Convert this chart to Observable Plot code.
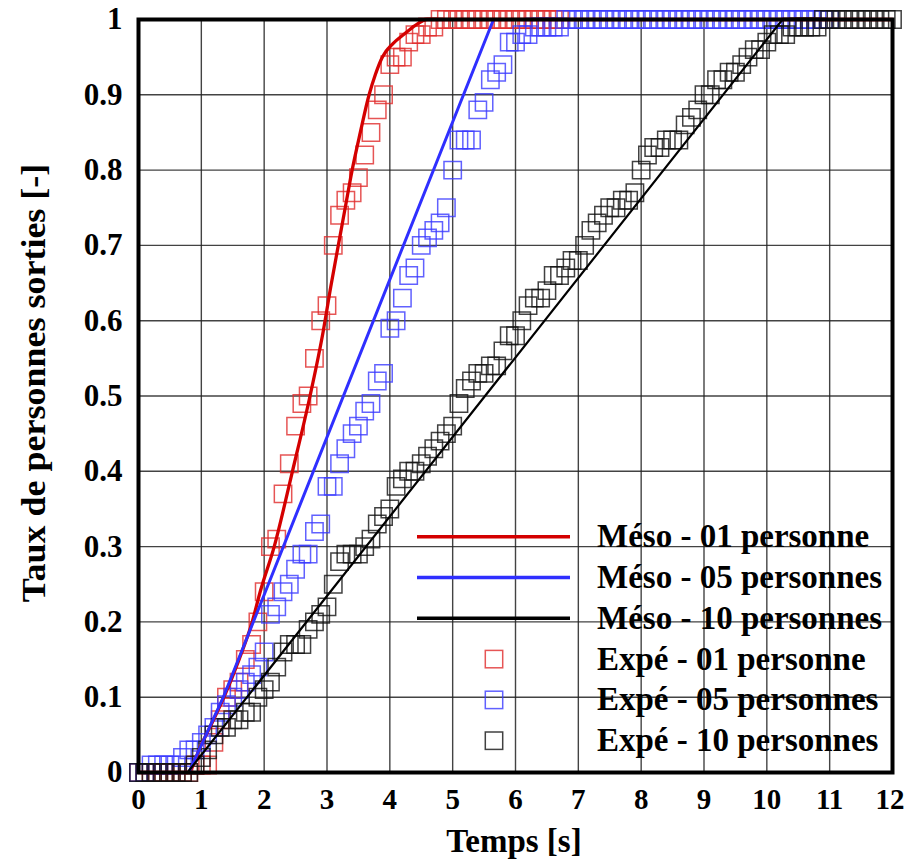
<!DOCTYPE html>
<html><head><meta charset="utf-8">
<script src="https://cdn.jsdelivr.net/npm/d3@7"></script>
<script src="https://cdn.jsdelivr.net/npm/@observablehq/plot@0.6"></script>
<style>
body{margin:0;background:#fff}
#chart{position:relative;width:904px;height:860px}
</style>
</head><body><div id="chart"></div>
<script>
// ---------- DATA ----------
const xTicks = [0,1,2,3,4,5,6,7,8,9,10,11,12];
const yTicks = [0,0.1,0.2,0.3,0.4,0.5,0.6,0.7,0.8,0.9,1];

// experimental sampling times [s]
const expTimes = [0,0.1,0.2,0.3,0.4,0.5,0.6,0.7,0.8,0.9,
  1.0,1.1,1.2,1.3,1.4,1.5,1.6,1.7,1.8,1.9,
  2.0,2.1,2.2,2.3,2.4,2.5,2.6,2.7,2.8,2.9,
  3.0,3.1,3.2,3.3,3.4,3.5,3.6,3.7,3.8,3.9,
  4.0,4.1,4.2,4.3,4.4,4.5,4.6,4.7,4.8,4.9,
  5.0,5.1,5.2,5.3,5.4,5.5,5.6,5.7,5.8,5.9,
  6.0,6.1,6.2,6.3,6.4,6.5,6.6,6.7,6.8,6.9,
  7.0,7.1,7.2,7.3,7.4,7.5,7.6,7.7,7.8,7.9,
  8.0,8.1,8.2,8.3,8.4,8.5,8.6,8.7,8.8,8.9,
  9.0,9.1,9.2,9.3,9.4,9.5,9.6,9.7,9.8,9.9,
  10.0,10.1,10.2,10.3,10.4,10.5,10.6,10.7,10.8,10.9,
  11.0,11.1,11.2,11.3,11.4,11.5,11.6,11.7,11.8,11.9,12.0];

// Expé - 01 personne (t = 0 .. 6.7)
const expe01 = [0,0,0,0,0,0,0,0,0,0.01,
  0.01,0.01,0.04,0.07,0.10,0.11,0.12,0.15,0.17,0.20,
  0.24,0.30,0.31,0.37,0.41,0.46,0.49,0.50,0.55,0.60,
  0.62,0.70,0.74,0.76,0.77,0.79,0.82,0.85,0.88,0.90,
  0.94,0.95,0.95,0.97,0.98,0.98,0.99,0.99,1,1,
  1,1,1,1,1,1,1,1,1,1,
  1,1,1,1,1,1,1,1];

// Expé - 05 personnes (t = 0 .. 11.0)
const expe05 = [0,0,0.01,0.01,0.01,0.01,0.01,0.02,0.03,0.03,
  0.04,0.05,0.06,0.08,0.09,0.10,0.11,0.12,0.13,0.14,
  0.16,0.21,0.22,0.24,0.25,0.27,0.29,0.29,0.32,0.33,
  0.38,0.38,0.41,0.43,0.45,0.46,0.48,0.49,0.52,0.53,
  0.59,0.60,0.63,0.66,0.67,0.70,0.71,0.72,0.73,0.75,
  0.80,0.84,0.84,0.84,0.88,0.89,0.92,0.93,0.94,0.97,
  0.97,0.98,0.98,0.99,0.99,0.99,0.99,0.99,1,1,
  1,1,1,1,1,1,1,1,1,1,
  1,1,1,1,1,1,1,1,1,1,
  1,1,1,1,1,1,1,1,1,1,
  1,1,1,1,1,1,1,1,1,1,
  1];

// Expé - 10 personnes (t = 0 .. 12.0)
const expe10 = [0,0,0,0,0,0,0,0,0,0.01,
  0.02,0.03,0.05,0.06,0.06,0.07,0.07,0.08,0.08,0.10,
  0.11,0.12,0.14,0.16,0.17,0.17,0.17,0.19,0.20,0.21,
  0.22,0.25,0.28,0.29,0.29,0.29,0.30,0.31,0.33,0.34,
  0.35,0.38,0.39,0.40,0.40,0.41,0.42,0.43,0.44,0.45,
  0.46,0.49,0.51,0.52,0.53,0.53,0.54,0.54,0.56,0.58,
  0.58,0.60,0.62,0.63,0.63,0.64,0.66,0.66,0.67,0.68,
  0.68,0.70,0.72,0.73,0.74,0.75,0.75,0.76,0.76,0.77,
  0.80,0.82,0.83,0.83,0.84,0.84,0.84,0.86,0.87,0.88,
  0.90,0.90,0.92,0.92,0.93,0.93,0.94,0.95,0.96,0.96,
  0.97,0.98,0.98,0.98,0.99,0.99,0.99,0.99,0.99,1,
  1,1,1,1,1,1,1,1,1,1,1];

// Méso curves
const meso01T = [0,0.78,1.0,1.2,1.36,1.6,1.81,1.94,2.16,2.45,2.73,2.94,3.06,3.18,3.29,3.40,3.53,3.67,3.77,3.88,4.05,4.22,4.4,4.6,12];
const meso01Y = [0,0,0.037,0.071,0.1,0.15,0.2,0.241,0.3,0.4,0.5,0.586,0.645,0.7,0.75,0.8,0.85,0.9,0.927,0.95,0.968,0.98,0.992,1,1];
const meso05T = [0,0.8,1.35,5.65,12];
const meso05Y = [0,0,0.1,1,1];
const meso10T = [0,0.78,10.25,12];
const meso10Y = [0,0,1,1];

const legendLabels = ["Méso - 01 personne","Méso - 05 personnes","Méso - 10 personnes",
                      "Expé - 01 personne","Expé - 05 personnes","Expé - 10 personnes"];
const legendKinds = ["line","line","line","square","square","square"];
const xLabel = "Temps [s]";
const yLabel = "Taux de personnes sorties [-]";

// ---------- STYLE ----------
const FONT = "'Liberation Serif','Times New Roman',serif";
const lineColors = ["#d40000","#2f2fff","#000000"];
const markColors = ["#e02a2a","#3a3aff","#111111"];

const pts = (ts, ys) => ys.map((v, i) => ({t: ts[i], v}));
const dotOpts = (c) => ({x: "t", y: "v", symbol: "square", r: 9.8, fill: "none",
  stroke: c, strokeWidth: 1.5, strokeOpacity: 0.8});

const axisFont = {fontSize: 29, fontWeight: "bold"};

const svg = Plot.plot({
  width: 904, height: 860,
  marginLeft: 138, marginRight: 12, marginTop: 19, marginBottom: 88,
  x: {domain: [0, 12]},
  y: {domain: [0, 1]},
  style: {fontFamily: FONT, background: "#fff", color: "#000"},
  marks: [
    Plot.gridX(xTicks, {stroke: "#222", strokeOpacity: 0.85, strokeWidth: 1.4}),
    Plot.gridY(yTicks, {stroke: "#222", strokeOpacity: 0.85, strokeWidth: 1.4}),
    Plot.dot(pts(expTimes, expe01), dotOpts(markColors[0])),
    Plot.dot(pts(expTimes, expe05), dotOpts(markColors[1])),
    Plot.dot(pts(expTimes, expe10), dotOpts(markColors[2])),
    Plot.line(pts(meso01T, meso01Y), {x: "t", y: "v", stroke: lineColors[0], strokeWidth: 3.3, curve: "monotone-x"}),
    Plot.line(pts(meso05T, meso05Y), {x: "t", y: "v", stroke: lineColors[1], strokeWidth: 3.0}),
    Plot.line(pts(meso10T, meso10Y), {x: "t", y: "v", stroke: lineColors[2], strokeWidth: 2.2}),
    Plot.frame({stroke: "#000", strokeWidth: 4}),
    Plot.axisX(xTicks.slice(0, -1), {tickSize: 0, tickPadding: 16, ...axisFont, label: null}),
    Plot.axisX(xTicks.slice(-1), {tickSize: 0, tickPadding: 16, ...axisFont, textAnchor: "end", dx: 12, label: null}),
    Plot.axisY(yTicks, {tickSize: 0, tickPadding: 16, fontSize: 31, fontWeight: "bold",
      tickFormat: d3.format("~g"), label: null})
  ]
});
document.getElementById("chart").appendChild(svg);

// axis titles and legend
const root = d3.select(svg);
root.append("text")
  .attr("transform", "translate(45,383) rotate(-90) scale(1,0.95)")
  .attr("text-anchor", "middle")
  .attr("font-family", FONT).attr("font-weight", "bold").attr("font-size", 36)
  .attr("fill", "#000")
  .text(yLabel);
root.append("text")
  .attr("x", 514).attr("y", 852)
  .attr("text-anchor", "middle")
  .attr("font-family", FONT).attr("font-weight", "bold").attr("font-size", 33)
  .attr("fill", "#000")
  .text(xLabel);

const lg = root.append("g").attr("text-anchor", "start");
legendLabels.forEach((label, i) => {
  const yy = 536.7 + i * 40.8;
  const ci = i % 3;
  if (legendKinds[i] === "line") {
    lg.append("line").attr("x1", 417).attr("x2", 570).attr("y1", yy).attr("y2", yy)
      .attr("stroke", lineColors[ci]).attr("stroke-width", 3.4);
  } else {
    lg.append("rect").attr("x", 494 - 8.7).attr("y", yy - 8.7).attr("width", 17.4).attr("height", 17.4)
      .attr("fill", "none").attr("stroke", markColors[ci]).attr("stroke-width", 1.5).attr("stroke-opacity", 0.8);
  }
  lg.append("text").attr("x", 597).attr("y", yy + 10.5).attr("text-anchor", "start")
    .attr("font-family", FONT).attr("font-weight", "bold").attr("font-size", 33).attr("fill", "#000")
    .text(label);
});
</script>
</body></html>
